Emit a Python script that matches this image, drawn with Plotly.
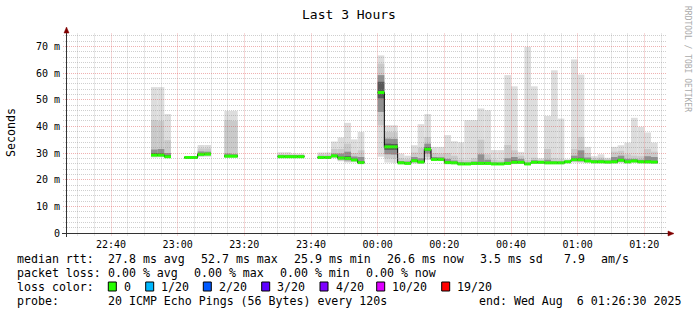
import numpy as np
import pandas as pd
import plotly.graph_objects as go

N = None
# ---- data: 2-minute smokeping steps starting 22:52 (ms) ----
ping_min = [
    28.3, 28.4, 28.1, N, N, 28.0, 28.0, 28.5, 28.6, N,
    N, 28.2, 28.2, N, N, N, N, N, N, 28.3,
    28.3, 28.3, 28.3, N, N, 27.9, 27.9, 28.0, 26.9, 26.4,
    26.5, 25.9, N, N, 28.6, 26.4, 26.3, 26.0, 25.8, 26.0,
    26.0, 27.4, 27.0, 27.0, 25.8, 25.9, 25.6, 25.6, 25.7, 25.6,
    25.6, 25.6, 25.6, 25.6, 25.8, 25.9, 25.6, 25.9, 26.0, 25.9,
    25.9, 25.9, 26.2, 26.4, 26.3, 26.2, 26.1, 26.1, 26.0, 26.0,
    26.2, 26.0, 26.3, 26.1, 25.9, 25.9]
p10 = [
    28.7, 28.7, 28.3, N, N, 28.1, 28.1, 28.8, 28.9, N,
    N, 28.4, 28.4, N, N, N, N, N, N, 28.4,
    28.4, 28.4, 28.4, N, N, 28.0, 28.0, 28.3, 27.2, 26.7,
    26.8, 26.0, N, N, 40.4, 28.0, 27.9, 26.1, 25.9, 26.3,
    26.2, 28.5, 27.2, 27.2, 26.0, 26.0, 25.7, 25.7, 25.8, 25.8,
    25.8, 25.7, 25.7, 25.8, 26.0, 26.1, 25.7, 26.1, 26.1, 26.0,
    26.0, 26.0, 26.4, 26.7, 26.6, 26.5, 26.3, 26.3, 26.2, 26.3,
    26.5, 26.3, 26.5, 26.3, 26.2, 26.2]
p25 = [
    29.0, 28.9, 28.4, N, N, 28.2, 28.2, 29.1, 29.2, N,
    N, 28.6, 28.6, N, N, N, N, N, N, 28.5,
    28.5, 28.5, 28.5, N, N, 28.2, 28.2, 28.6, 27.6, 27.2,
    27.0, 26.2, N, N, 45.4, 29.5, 29.4, 26.2, 26.0, 26.6,
    26.4, 29.8, 27.4, 27.4, 26.2, 26.1, 25.8, 25.8, 26.0, 25.9,
    25.9, 25.8, 25.8, 26.0, 26.2, 26.3, 25.8, 26.3, 26.3, 26.1,
    26.1, 26.1, 26.5, 27.0, 26.9, 26.7, 26.5, 26.5, 26.4, 26.5,
    26.8, 26.5, 26.7, 26.5, 26.4, 26.4]
p40 = [
    29.1, 29.1, 28.5, N, N, 28.25, 28.3, 29.4, 29.4, N,
    N, 28.7, 28.7, N, N, N, N, N, N, 28.55,
    28.55, 28.55, 28.55, N, N, 28.25, 28.25, 28.8, 27.9, 27.7,
    27.3, 26.3, N, N, 50.5, 31.2, 31.2, 26.25, 26.05, 26.9,
    26.5, 30.9, 27.5, 27.5, 26.3, 26.2, 25.85, 25.85, 26.05, 26.0,
    26.0, 25.85, 25.85, 26.05, 26.4, 26.4, 25.85, 26.4, 26.4, 26.2,
    26.2, 26.2, 26.6, 27.3, 27.2, 26.9, 26.6, 26.6, 26.5, 26.6,
    27.1, 26.6, 26.9, 26.6, 26.6, 26.5]
median = [
    29.2, 29.2, 28.6, N, N, 28.3, 28.3, 29.5, 29.6, N,
    N, 28.8, 28.8, N, N, N, N, N, N, 28.6,
    28.6, 28.6, 28.6, N, N, 28.3, 28.3, 28.9, 28.1, 28.0,
    27.4, 26.4, N, N, 52.7, 32.3, 32.3, 26.3, 26.1, 27.1,
    26.6, 31.4, 27.6, 27.6, 26.4, 26.3, 25.9, 25.9, 26.1, 26.1,
    26.1, 25.9, 25.9, 26.1, 26.5, 26.5, 25.9, 26.5, 26.5, 26.3,
    26.3, 26.3, 26.7, 27.5, 27.5, 27.0, 26.7, 26.7, 26.6, 26.7,
    27.3, 26.7, 27.0, 26.7, 26.7, 26.6]
p60 = [
    30.0, 29.9, 28.9, N, N, 28.4, 28.4, 29.8, 29.9, N,
    N, 29.0, 29.0, N, N, N, N, N, N, 28.7,
    28.7, 28.7, 28.7, N, N, 28.5, 28.5, 29.1, 28.6, 28.8,
    27.8, 26.8, N, N, 56.7, 33.5, 33.4, 26.5, 26.3, 27.5,
    26.9, 32.2, 27.8, 27.8, 26.7, 26.5, 26.0, 26.0, 26.3, 26.5,
    26.4, 26.0, 26.0, 26.4, 27.2, 26.8, 26.0, 26.7, 26.6, 26.5,
    26.4, 26.4, 26.8, 27.9, 28.2, 27.3, 26.9, 26.9, 26.8, 27.2,
    27.8, 27.0, 27.2, 26.9, 27.2, 27.0]
p75 = [
    31.3, 31.5, 30.0, N, N, 28.5, 28.5, 30.6, 30.5, N,
    N, 29.8, 29.6, N, N, N, N, N, N, 29.0,
    29.0, 28.9, 28.9, N, N, 28.9, 28.8, 29.8, 29.8, 30.5,
    28.7, 28.5, N, N, 59.2, 35.4, 35.3, 27.0, 26.8, 28.5,
    28.0, 33.5, 28.5, 28.4, 27.8, 27.2, 26.5, 26.4, 26.8, 29.5,
    27.5, 26.4, 26.3, 28.0, 28.5, 27.8, 26.3, 27.3, 27.0, 27.5,
    26.9, 26.8, 27.1, 29.0, 31.0, 28.3, 27.4, 27.5, 27.2, 28.5,
    29.0, 27.8, 27.8, 27.5, 28.8, 28.5]
p90 = [
    42.3, 42.0, 34.8, N, N, 28.7, 28.6, 31.7, 31.7, N,
    N, 42.3, 42.0, N, N, N, N, N, N, 29.6,
    29.5, 29.3, 29.3, N, N, 29.5, 29.4, 31.5, 31.5, 33.5,
    30.0, 31.0, N, N, 63.5, 37.9, 37.8, 28.0, 27.7, 30.2,
    32.0, 36.0, 30.0, 29.8, 30.0, 29.0, 27.5, 27.3, 28.0, 35.0,
    29.5, 27.5, 27.2, 33.0, 31.0, 29.0, 27.3, 28.2, 27.5, 31.5,
    28.0, 27.8, 27.4, 31.5, 36.0, 30.0, 28.0, 28.3, 27.7, 30.5,
    30.8, 29.5, 29.0, 28.8, 31.5, 30.5]
ping_max = [
    54.7, 54.7, 44.6, N, N, 28.9, 28.8, 33.0, 33.0, N,
    N, 45.8, 45.8, N, N, N, N, N, N, 30.3,
    30.3, 29.8, 29.8, N, N, 30.2, 30.2, 34.3, 35.8, 41.3,
    35.1, 37.9, N, N, 66.6, 40.4, 40.4, 29.8, 29.0, 32.9,
    40.8, 44.6, 32.3, 32.3, 36.7, 34.4, 34.0, 42.3, 42.3, 46.7,
    46.0, 31.1, 31.1, 59.2, 55.0, 30.4, 69.8, 55.0, 28.0, 43.9,
    61.0, 42.9, 27.7, 65.1, 59.4, 32.3, 28.8, 29.5, 28.2, 32.3,
    32.9, 33.9, 43.2, 39.8, 37.7, 33.9]

y_ticks = [0, 10, 20, 30, 40, 50, 60, 70]
y_tick_text = ["0", "10 m", "20 m", "30 m", "40 m", "50 m", "60 m", "70 m"]

# ---- layout helpers (pixel -> paper) ----
L, T, W, H = 66, 33, 600, 200
Y_MAX = 75
T_START = pd.Timestamp("2025-08-05 22:26:30")
T_END = pd.Timestamp("2025-08-06 01:26:30")
def xp(px): return (px - L) / W
def yp(py): return (T + H - py) / H
def snap_x(t):  # pixel-centre a time for crisp 1px grid lines
    px = L + (t - T_START) / (T_END - T_START) * W
    return xp(np.floor(px) + 0.5)
def snap_y(v):
    py = T + H - v / Y_MAX * H
    return yp(np.floor(py) + 0.5)

FONT = "DejaVu Sans Mono, monospace"
step_start = pd.date_range("2025-08-05 22:52:00", periods=len(median), freq="2min")
step_mid = step_start + pd.Timedelta(minutes=1)
step_end = step_start + pd.Timedelta(minutes=2)

def arr(a):
    return np.array([np.nan if v is None else v for v in a], dtype=float)

fig = go.Figure()
bands = [(ping_min, ping_max, "#dddddd"), (p10, p90, "#cacaca"),
         (p25, p75, "#919191"), (p40, p60, "#585858")]
for lo, hi, col in bands:
    lo_a, hi_a = arr(lo), arr(hi)
    fig.add_trace(go.Bar(x=list(step_mid), y=list(hi_a - lo_a), base=list(lo_a), width=120000,
                         marker=dict(color=col, line=dict(width=0)),
                         hoverinfo="skip", showlegend=False))

# median: black step line + green segments
bx, by, gx, gy = [], [], [], []
prev = False
for k, m in enumerate(median):
    if m is None:
        if prev:
            bx.append(None); by.append(None)
        prev = False
        continue
    bx += [step_start[k], step_end[k]]; by += [m, m]
    gx += [step_start[k], step_end[k], None]; gy += [m, m, None]
    prev = True
fig.add_trace(go.Scatter(x=bx, y=by, mode="lines", line=dict(color="#000000", width=1),
                         hoverinfo="skip", showlegend=False))
fig.add_trace(go.Scatter(x=gx, y=gy, mode="lines", line=dict(color="#26ff00", width=3),
                         hoverinfo="skip", showlegend=False))

shapes = []
MAJOR = "rgba(220,70,70,0.42)"
MINOR = "rgba(130,130,130,0.38)"
# grid on top (rrdtool style)
for t in pd.date_range("2025-08-05 22:30", "2025-08-06 01:25", freq="5min"):
    major = t.minute % 20 == 0
    sx = snap_x(t)
    shapes.append(dict(type="line", xref="paper", yref="paper", x0=sx, x1=sx, y0=yp(235.5), y1=1,
                       line=dict(color=MAJOR if major else MINOR, width=1, dash="1px,1px"),
                       layer="above"))
for v in range(2, 75, 2):
    major = v % 10 == 0
    sy = snap_y(v)
    shapes.append(dict(type="line", xref="paper", yref="paper", x0=xp(63), x1=1.0, y0=sy, y1=sy,
                       line=dict(color=MAJOR if major else MINOR, width=1, dash="1px,1px"),
                       layer="above"))
# axes + arrows
AX = "#333333"
shapes.append(dict(type="line", xref="paper", yref="paper", x0=xp(62), x1=xp(669),
                   y0=yp(233.5), y1=yp(233.5), line=dict(color=AX, width=1), layer="above"))
shapes.append(dict(type="line", xref="paper", yref="paper", x0=xp(66.5), x1=xp(66.5),
                   y0=yp(237), y1=yp(31), line=dict(color=AX, width=1), layer="above"))
shapes.append(dict(type="path", xref="paper", yref="paper",
                   path=f"M {xp(64)},{yp(33)} L {xp(69)},{yp(33)} L {xp(66.5)},{yp(27)} Z",
                   fillcolor="#800000", line=dict(color="#800000", width=0.5), layer="above"))
shapes.append(dict(type="path", xref="paper", yref="paper",
                   path=f"M {xp(668)},{yp(231)} L {xp(668)},{yp(236)} L {xp(674)},{yp(233.5)} Z",
                   fillcolor="#800000", line=dict(color="#800000", width=0.5), layer="above"))

ann = []
def text(px, py, s, size=11.6, color="#000000", anchor="left", angle=0):
    ann.append(dict(x=xp(px), y=yp(py), xref="paper", yref="paper", text=s, showarrow=False,
                    xanchor=anchor, yanchor="middle", textangle=angle,
                    font=dict(family=FONT, size=size, color=color)))

text(348.5, 14, "Last 3 Hours", size=13, anchor="center")
text(11, 133, "Seconds", anchor="center", angle=-90)
text(688, 59, "RRDTOOL / TOBI OETIKER", size=8, color="#aaaaaa", anchor="center", angle=90)

rows = [
    (259.3, [(16, "median rtt:"), (107.3, "27.8 ms avg"), (200, "52.7 ms max"), (293.3, "25.9 ms min"),
             (386, "26.6 ms now"), (479.3, "3.5 ms sd"), (563.3, "7.9"), (600, "am/s")]),
    (273.3, [(16, "packet loss:"), (107.3, "0.00 % avg"), (193.3, "0.00 % max"),
             (279.3, "0.00 % min"), (365, "0.00 % now")]),
    (286.7, [(16, "loss color:")]),
    (301, [(16, "probe:"), (107.3, "20 ICMP Echo Pings (56 Bytes) every 120s"),
           (478.3, "end: Wed Aug  6 01:26:30 2025")]),
]
for py, items in rows:
    for px, s in items:
        text(px - 1, py, s)

loss_labels = ["0", "1/20", "2/20", "3/20", "4/20", "10/20", "19/20"]
loss_colors = ["#26ff00", "#00b8ff", "#0059ff", "#5e00ff", "#7e00ff", "#dd00ff", "#ff0000"]
loss_box_x = [108.3, 145.7, 203.3, 261.7, 320, 376.7, 441.7]
for lbl, col, bx0 in zip(loss_labels, loss_colors, loss_box_x):
    shapes.append(dict(type="rect", xref="paper", yref="paper", x0=xp(bx0), x1=xp(bx0 + 8),
                       y0=yp(291), y1=yp(282), fillcolor=col, line=dict(color="#000000", width=1)))
    text(bx0 + 14.5 - 1, 286.7, lbl)

fig.update_layout(
    width=697, height=315, autosize=False,
    margin=dict(l=L, r=697 - L - W, t=T, b=315 - T - H, pad=0),
    paper_bgcolor="#ffffff", plot_bgcolor="#ffffff",
    barmode="overlay", showlegend=False,
    shapes=shapes, annotations=ann,
    font=dict(family=FONT, size=10, color="#000000"),
    xaxis=dict(type="date", range=[T_START, T_END],
               tickvals=list(pd.date_range("2025-08-05 22:40", "2025-08-06 01:20", freq="20min")),
               tickformat="%H:%M", showgrid=False, zeroline=False, showline=False,
               ticks="outside", ticklen=2, tickcolor="rgba(0,0,0,0)",
               tickfont=dict(family=FONT, size=10, color="#000000"), fixedrange=True),
    yaxis=dict(range=[0, Y_MAX], tickvals=y_ticks, ticktext=y_tick_text, showgrid=False,
               zeroline=False, showline=False, ticks="outside", ticklen=3,
               tickcolor="rgba(0,0,0,0)",
               tickfont=dict(family=FONT, size=10, color="#000000"), fixedrange=True),
)
fig.write_html("out.html")
